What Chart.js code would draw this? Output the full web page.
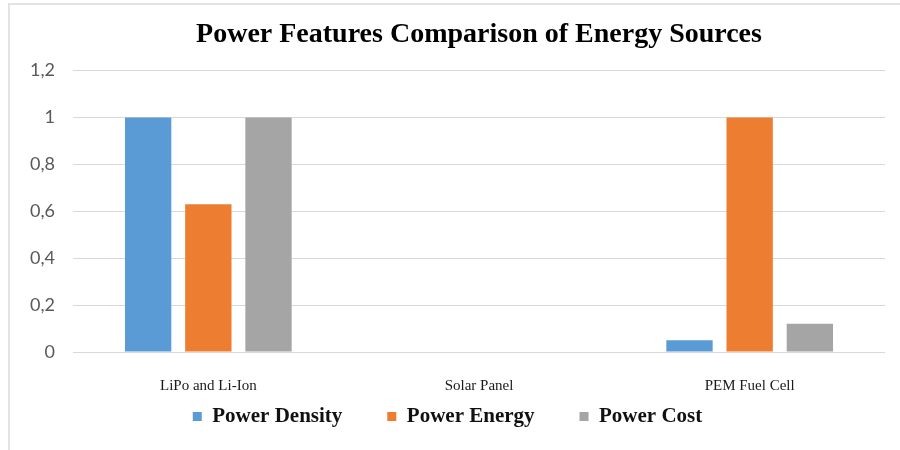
<!DOCTYPE html>
<html>
<head>
<meta charset="utf-8">
<script src="https://cdn.jsdelivr.net/npm/chart.js@4.4.0/dist/chart.umd.min.js"></script>
<style>
  html, body { margin: 0; padding: 0; background: #fff; }
  #frame {
    position: absolute; left: 8px; top: 3px; width: 892px; height: 447px;
    border-top: 2px solid #e3e3e3; border-left: 2px solid #e3e3e3;
  }
  #wrap { position: absolute; left: 0; top: 0; width: 890px; height: 440px; }
</style>
</head>
<body>
<div id="frame"><div id="wrap"><canvas id="chart"></canvas></div></div>
<script>
// Chart data
const categories = ['LiPo and Li-Ion', 'Solar Panel', 'PEM Fuel Cell'];
const powerDensity = [1, 0, 0.05];
const powerEnergy = [0.63, 0, 1];
const powerCost = [1, 0, 0.12];
const yTickLabels = ['0', '0,2', '0,4', '0,6', '0,8', '1', '1,2'];

const serif = '"Liberation Serif", "Times New Roman", serif';

// pull the legend up close under the category labels
// (legend clips to its own box, so give it room to draw)
const legendNudge = {
  id: 'legendNudge',
  afterLayout(chart) {
    const lg = chart.legend;
    if (!lg) return;
    lg.top = chart.chartArea.bottom + 9;
    lg.bottom = lg.top + 90;
    lg.height = 90;
  }
};

const ctx = document.getElementById('chart').getContext('2d');

new Chart(ctx, {
  type: 'bar',
  data: {
    labels: categories,
    datasets: [
      { label: 'Power Density', data: powerDensity, backgroundColor: '#5b9bd5' },
      { label: 'Power Energy', data: powerEnergy, backgroundColor: '#ed7d31' },
      { label: 'Power Cost', data: powerCost, backgroundColor: '#a5a5a5' }
    ]
  },
  plugins: [legendNudge],
  options: {
    responsive: true,
    maintainAspectRatio: false,
    animation: false,
    categoryPercentage: 0.667,
    barPercentage: 0.77,
    layout: { padding: { left: 0, right: 15, bottom: 10 } },
    plugins: {
      title: {
        display: true,
        text: 'Power Features Comparison of Energy Sources',
        fullSize: false,
        color: '#000',
        font: { family: serif, size: 28, weight: 'bold' },
        padding: { top: 13, bottom: 19 }
      },
      legend: {
        position: 'bottom',
        maxHeight: 23,
        labels: {
          color: '#111',
          boxWidth: 9,
          boxHeight: 9,
          padding: 45,
          font: { family: serif, size: 21, weight: 'bold' }
        }
      },
      tooltip: { enabled: false }
    },
    scales: {
      x: {
        grid: { display: false },
        border: { display: false },
        ticks: {
          color: '#1a1a1a',
          padding: 17,
          font: { family: serif, size: 15 }
        }
      },
      y: {
        min: 0,
        max: 1.2,
        grid: { color: '#d9d9d9', lineWidth: 1, drawTicks: false },
        border: { display: false },
        ticks: {
          stepSize: 0.2,
          color: '#595959',
          padding: 18,
          font: { family: 'Lato, sans-serif', size: 18 },
          callback: function(value, index) {
            return yTickLabels[index];
          }
        },
        afterFit: function(axis) { axis.width = 63; }
      }
    }
  }
});
</script>
</body>
</html>
